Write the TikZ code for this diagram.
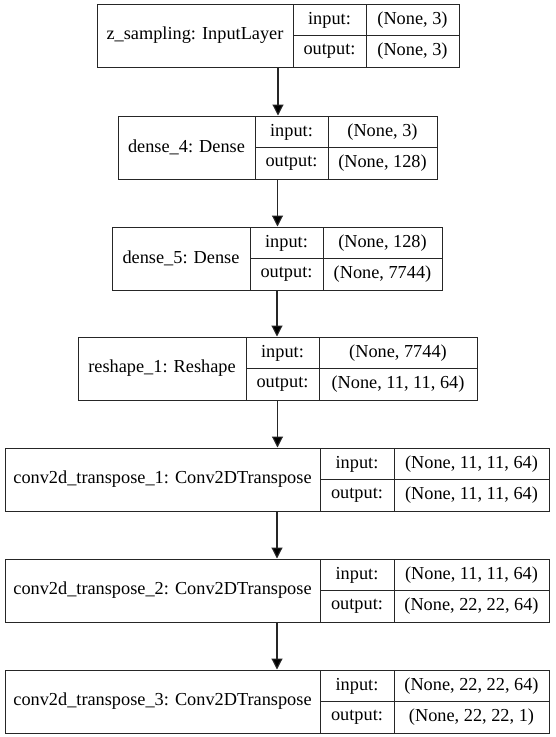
\documentclass[tikz,border=0pt]{standalone}
\usepackage{fontspec}
\setmainfont{Liberation Serif}
\usetikzlibrary{arrows.meta}

\tikzset{
  frame/.style={draw=black!85, line width=1pt, inner sep=0pt, minimum height=63pt},
  cellline/.style={draw=black!85, line width=1pt},
  txt/.style={inner sep=0pt, font=\fontsize{18.3}{22}\selectfont, text=black},
  flow/.style={draw=black!85, line width=1.1pt,
    -{Triangle[length=11pt, width=11pt, fill=black]}},
}

% One layer record: name, top, left, div1, div2, right, label, input, output
\newcommand{\layerrow}[9]{%
  \pgfmathsetmacro\rowW{#6-#3}%
  \pgfmathsetmacro\rowX{(#3+#6)/2}%
  \node[frame, minimum width=\rowW pt] (#1) at (\rowX, {#2+31.5}) {};
  \draw[cellline] (#4, #2) -- (#4, {#2+63});
  \draw[cellline] (#5, #2) -- (#5, {#2+63});
  \draw[cellline] (#4, {#2+31.5}) -- (#6, {#2+31.5});
  \node[txt] (#1-name) at ({(#3+#4)/2}, {#2+31.5}) {#7};
  \node[txt] (#1-ikey) at ({(#4+#5)/2}, {#2+16}) {input:};
  \node[txt] (#1-okey) at ({(#4+#5)/2}, {#2+47.5}) {output:};
  \node[txt] (#1-ival) at ({(#5+#6)/2}, {#2+16}) {#8};
  \node[txt] (#1-oval) at ({(#5+#6)/2}, {#2+47.5}) {#9};
}

\begin{document}
\begin{tikzpicture}[x=1pt, y=-1pt]
  \useasboundingbox[fill=white] (0,0) rectangle (556,737);

  \layerrow{L1}{4}{97}{293}{366}{459}{z\_sampling: InputLayer}{(None, 3)}{(None, 3)}
  \layerrow{L2}{116}{118}{255}{328}{437}{dense\_4: Dense}{(None, 3)}{(None, 128)}
  \layerrow{L3}{227}{112}{250}{323}{442}{dense\_5: Dense}{(None, 128)}{(None, 7744)}
  \layerrow{L4}{337}{78}{246}{319}{477}{reshape\_1: Reshape}{(None, 7744)}{(None, 11, 11, 64)}
  \layerrow{L5}{448}{5}{320}{394}{549}{conv2d\_transpose\_1: Conv2DTranspose}{(None, 11, 11, 64)}{(None, 11, 11, 64)}
  \layerrow{L6}{559}{5}{320}{394}{549}{conv2d\_transpose\_2: Conv2DTranspose}{(None, 11, 11, 64)}{(None, 22, 22, 64)}
  \layerrow{L7}{670}{5}{320}{394}{549}{conv2d\_transpose\_3: Conv2DTranspose}{(None, 22, 22, 64)}{(None, 22, 22, 1)}

  \draw[flow] (L1.south) -- (L1.south |- L2.north);
  \draw[flow] (L2.south) -- (L2.south |- L3.north);
  \draw[flow] (L3.south) -- (L3.south |- L4.north);
  \draw[flow] (L4.south) -- (L4.south |- L5.north);
  \draw[flow] (L5.south) -- (L5.south |- L6.north);
  \draw[flow] (L6.south) -- (L6.south |- L7.north);
\end{tikzpicture}
\end{document}
